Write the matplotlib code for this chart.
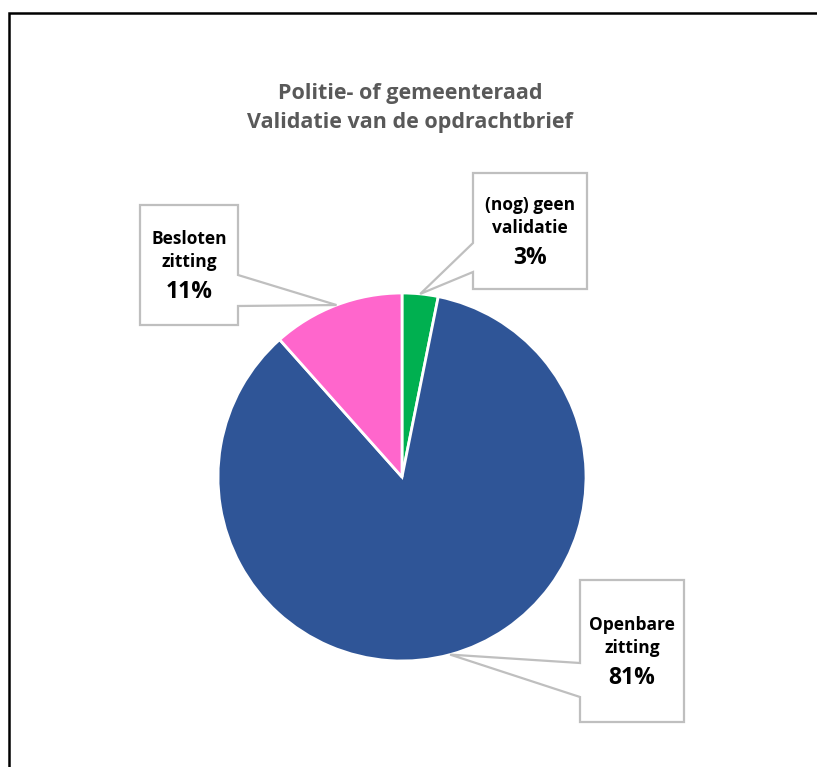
import matplotlib
matplotlib.use("Agg")
import matplotlib.pyplot as plt
from matplotlib.patches import Polygon
import numpy as np

# ---- data ----
categories = ["(nog) geen\nvalidatie", "Openbare\nzitting", "Besloten\nzitting"]
values = [3, 81, 11]
pct_labels = ["3%", "81%", "11%"]
colors = ["#00B050", "#2F5597", "#FF66CC"]
title = "Politie- of gemeenteraad\nValidatie van de opdrachtbrief"

W, H = 817, 767
fig = plt.figure(figsize=(W / 100, H / 100), dpi=100)
ax = fig.add_axes([0, 0, 1, 1])

def Y(y):
    return H - y

cx, cy, r = 402, Y(477), 184
wedges, _ = ax.pie(values, colors=colors, startangle=90, counterclock=False,
                   center=(cx, cy), radius=r, frame=True,
                   wedgeprops=dict(edgecolor="white", linewidth=2))
ax.set_xlim(0, W)
ax.set_ylim(0, H)
ax.set_aspect("equal")
ax.axis("off")

# outer frame (left and top visible)
ax.plot([9, 9, W + 5], [Y(H + 5), Y(13), Y(13)], color="black", lw=1.8,
        solid_joinstyle="miter", zorder=1)

ax.text(410, Y(108), title, ha="center", va="center", fontsize=15.5,
        fontweight="bold", color="#595959", family="Open Sans", linespacing=1.55)

# callout boxes: (left, top, right, bottom), side of the pointer, pointer y range
boxes = [
    ((473, 173, 587, 289), "left", (243, 272)),
    ((580, 580, 684, 722), "left", (663, 697)),
    ((140, 205, 238, 325), "right", (275, 306)),
]

for w, cat, pct, (box, side, (p1, p2)) in zip(wedges, categories, pct_labels, boxes):
    ang = np.deg2rad((w.theta1 + w.theta2) / 2)
    axp = cx + r * np.cos(ang)
    ayp = cy + r * np.sin(ang)
    l, t, rr, b = box
    if side == "left":
        pts = [(l, Y(t)), (rr, Y(t)), (rr, Y(b)), (l, Y(b)), (l, Y(p2)),
               (axp, ayp), (l, Y(p1))]
    else:
        pts = [(l, Y(t)), (rr, Y(t)), (rr, Y(p1)), (axp, ayp), (rr, Y(p2)),
               (rr, Y(b)), (l, Y(b))]
    ax.add_patch(Polygon(pts, closed=True, facecolor="white", edgecolor="#BFBFBF",
                         lw=1.6, zorder=5, joinstyle="miter"))
    xm = (l + rr) / 2
    ym = (t + b) / 2
    ax.text(xm, Y(ym - 14.5), cat, ha="center", va="center", fontsize=12.5,
            fontweight="bold", color="black", family="Open Sans",
            linespacing=1.42, zorder=6)
    ax.text(xm, Y(ym + 27), pct, ha="center", va="center", fontsize=16.5,
            fontweight="bold", color="black", family="Open Sans", zorder=6)

fig.savefig("out.png", dpi=100, facecolor="white")
